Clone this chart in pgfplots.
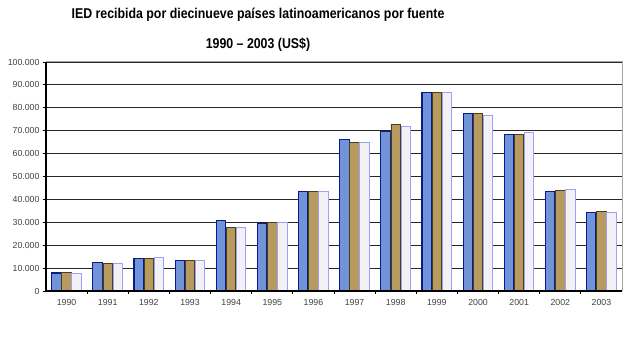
\documentclass[border=0pt]{standalone}
\usepackage{fontspec}
\setmainfont{Liberation Sans}
\usepackage{pgfplots}
\pgfplotsset{compat=1.18}
\definecolor{bluefill}{HTML}{7193D8}
\definecolor{blueedge}{HTML}{0A1A8C}
\definecolor{brownfill}{HTML}{B69A5E}
\definecolor{brownedge}{HTML}{4A3C20}
\definecolor{whitefill}{HTML}{F2F2F6}
\definecolor{whiteedge}{HTML}{A0A0F8}
\begin{document}
\begin{tikzpicture}
\useasboundingbox (0,0) rectangle (631bp,338bp);
\node[font=\bfseries\fontsize{12.4}{14}\selectfont, yscale=1.15] at (258bp,323bp) {IED recibida por diecinueve países latinoamericanos por fuente};
\node[font=\bfseries\fontsize{12.4}{14}\selectfont, yscale=1.15] at (258bp,293bp) {1990 – 2003 (US\$)};
\begin{axis}[
  at={(46bp,47bp)}, anchor=south west, scale only axis,
  width=576bp, height=229bp,
  xmin=-0.5, xmax=13.5, ymin=0, ymax=100000,
  ybar=0.6bp, bar width=9.5bp,
  xtick={0,...,13},
  xticklabels={1990,1991,1992,1993,1994,1995,1996,1997,1998,1999,2000,2001,2002,2003},
  minor xtick={0.5,1.5,...,12.5},
  major x tick style={draw=none},
  minor x tick style={black, line width=0.8bp},
  minor tick length=3bp,
  ytick={0,10000,...,100000},
  yticklabels={0,10.000,20.000,30.000,40.000,50.000,60.000,70.000,80.000,90.000,100.000},
  scaled y ticks=false,
  /pgf/number format/assume math mode=true,
  tick label style={font=\fontsize{8.8}{10}\selectfont, text=black!75},
  xticklabel style={yshift=-2bp},
  tick pos=left, tick align=outside,
  major tick length=3bp,
  ymajorgrids, grid style={black!85, line width=1.1bp},
  axis line style={gray!70, line width=1bp},
  y tick style={black, line width=0.8bp},
  clip=false,
]
\addplot[fill=bluefill, draw=blueedge, line width=1.2bp] coordinates {
(0,7900) (1,12500) (2,14200) (3,13200) (4,30800) (5,29500) (6,43600) (7,66100) (8,69600) (9,86600) (10,77400) (11,68300) (12,43600) (13,34200)};
\addplot[fill=brownfill, draw=brownedge, line width=0.8bp] coordinates {
(0,8000) (1,12100) (2,14300) (3,13200) (4,27600) (5,30000) (6,43500) (7,65000) (8,72800) (9,86600) (10,77400) (11,68300) (12,44000) (13,34800)};
\addplot[fill=whitefill, draw=whiteedge, line width=1bp] coordinates {
(0,7800) (1,12000) (2,14500) (3,13200) (4,27700) (5,30000) (6,43300) (7,65000) (8,71800) (9,86600) (10,76800) (11,69000) (12,44200) (13,34400)};
\draw[black, line width=1.6bp] (rel axis cs:0,0) -- (rel axis cs:0,1);
\draw[black, line width=1.2bp] (rel axis cs:0,0) -- (rel axis cs:1,0);
\end{axis}
\end{tikzpicture}
\end{document}
